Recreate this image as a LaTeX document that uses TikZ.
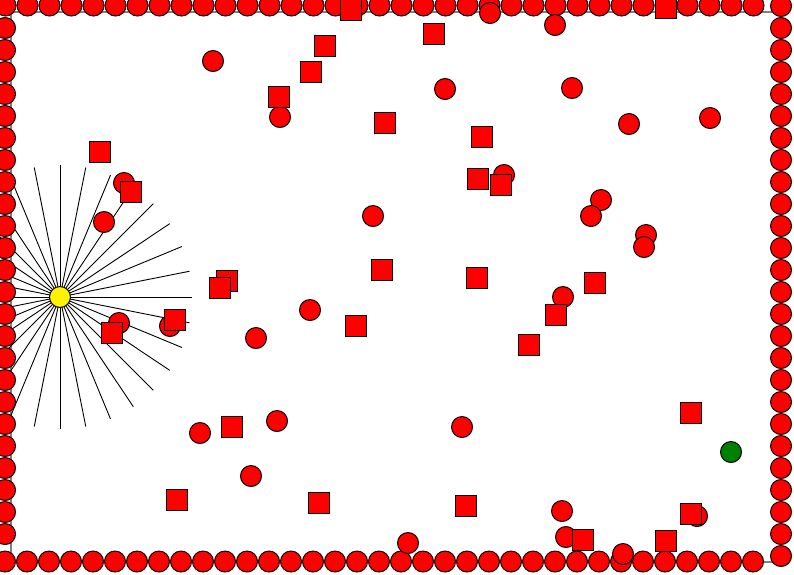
\documentclass[tikz,border=0pt]{standalone}
\usetikzlibrary{positioning}
\begin{document}
\begin{tikzpicture}[x=1pt, y=-1pt, line width=1pt,
	wall/.style={circle, draw, fill=red, inner sep=0pt, minimum size=21pt},
	ball/.style={wall},
	box/.style={rectangle, draw, fill=red, inner sep=0pt, minimum size=21pt},
	robot/.style={circle, draw, fill=yellow, inner sep=0pt, minimum size=21pt},
	goal/.style={circle, draw, fill=green!50!black, inner sep=0pt, minimum size=21pt},
	ray/.style={black, line width=0.9pt}]
\useasboundingbox (0,0) rectangle (794,574);
\clip (0,0) rectangle (794,574);
\fill[white] (0,0) rectangle (794,574);
\draw[gray, line width=1.5pt] (11,12) rectangle (781,562);

\coordinate (eye) at (60,297);
\foreach \k in {0,...,31}
	\draw[ray] (eye) -- ++(\k*11.25:132);

\foreach \k in {0,...,34}
	\node[wall] (top\k) at (5.5+22*\k,5.5) {};
\foreach \k in {0,...,34}
	\node[wall] (bottom\k) at (5+22*\k,561.5) {};
\foreach \k in {0,...,23}
	\node[wall] (left\k) at (5,28+22*\k) {};
\foreach \k in {0,...,25}
	\node[wall] (right\k) at (781,6+22*\k) {};

\foreach \x/\y [count=\n] in {213/61, 280/117, 490/13, 555/25, 445/89, 572/88, 629/124, 710/118,
	124/183, 104/222, 119/323, 170/326, 256/338, 200/433, 251/476, 408/543, 562/511, 566/537,
	623/554, 697/516, 504/175, 601/200, 591/216, 646/235, 644/247, 373/216, 563/297, 310/310,
	277/421, 462/427}
	\node[ball] (ball\n) at (\x,\y) {};

\foreach \x/\y [count=\n] in {351/10, 325/46, 311/72, 279/97, 385/123, 434/34, 666/8, 482/137,
	100/152, 131/192, 227/281, 220/288, 112/333, 175/320, 232/427, 177/500, 319/503, 466/506,
	583/540, 666/541, 691/514, 478/179, 501/185, 382/270, 477/278, 595/283, 556/315, 529/345,
	356/326, 691/413}
	\node[box] (box\n) at (\x,\y) {};

\node[robot] (robot) at (eye) {};
\node[goal] (goal) at (731,452) {};
\end{tikzpicture}
\end{document}
